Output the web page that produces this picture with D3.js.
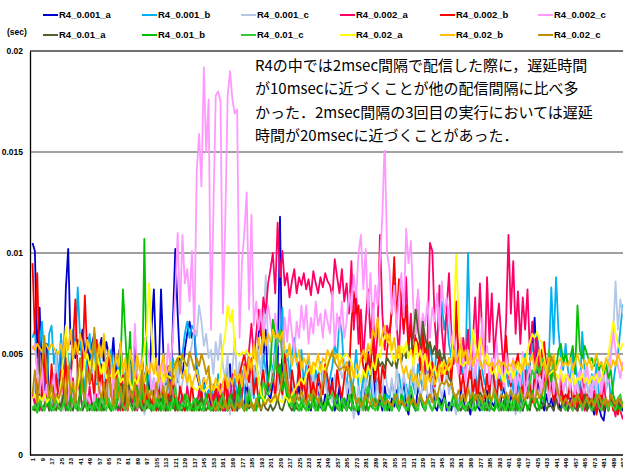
<!DOCTYPE html>
<html>
<head>
<meta charset="utf-8">
<script src="https://cdn.jsdelivr.net/npm/d3@7"></script>
<style>
  body { margin: 0; background: #fff; }
  svg { display: block; }
</style>
</head>
<body>
<div id="chart"></div>
<script>
const seriesNames = ["R4_0.001_a", "R4_0.001_b", "R4_0.001_c", "R4_0.002_a", "R4_0.002_b", "R4_0.002_c",
                     "R4_0.01_a", "R4_0.01_b", "R4_0.01_c", "R4_0.02_a", "R4_0.02_b", "R4_0.02_c"];
const yTicks = [0, 0.005, 0.01, 0.015, 0.02];
const yTickLabels = ["0", "0.005", "0.01", "0.015", "0.02"];
const xTickLabels = d3.range(1, 498, 8); // 1, 9, 17, ... 497
const noteLines = [
  "R4の中では2msec間隔で配信した際に，遅延時間",
  "が10msecに近づくことが他の配信間隔に比べ多",
  "かった．2msec間隔の3回目の実行においては遅延",
  "時間が20msecに近づくことがあった．"
];

const r4_0001_a = [105,101,48,73,40,32,55,28,36,25,44,30,58,38,82,102,55,60,48,57,52,62,50,58,46,
  55,60,48,52,58,45,56,50,44,58,38,48,55,42,30,50,46,35,55,40,28,48,36,44,30,
  62,82,45,38,82,50,35,44,28,66,102,70,45,38,52,60,66,58,62,40,35,30,38,26,32,
  24,30,22,28,35,25,22,30,45,24,28,22,33,26,22,38,25,30,44,35,60,66,48,62,30,
  28,35,46,40,118,32,44,30,25,38,22,28,34,26,40,30,24,22,32,27,36,24,22,30,26,
  30,38,22,26,34,22,28,24,36,30,22,25,20,28,24,44,51,40,46,30,24,28,22,34,26,
  22,28,24,32,22,26,38,24,20,30,25,22,35,28,24,22,30,26,40,24,22,28,25,32,22,
  26,22,30,24,22,34,28,22,25,20,30,36,24,22,28,25,32,22,26,24,30,22,28,35,24,
  22,30,26,24,40,28,22,35,30,46,55,68,40,32,26,22,30,24,28,22,34,26,22,30,25,
  22,28,24,30,22,26,35,24,22,28,25,20,30,24,19,17,26,22,30,24,22,28,25,22,26];
const r4_0001_b = [58,62,40,55,66,48,30,60,64,45,52,38,60,25,55,48,40,62,50,83,58,44,30,52,60,
  45,55,35,50,40,28,48,36,52,42,30,46,38,25,40,50,35,28,44,30,38,48,26,34,40,
  30,38,26,44,35,28,40,32,25,48,42,36,45,50,60,66,58,64,62,45,38,30,35,28,32,
  28,35,25,40,30,22,34,45,28,24,38,30,26,42,32,24,30,36,28,45,38,30,50,42,35,
  48,40,55,62,56,73,44,52,38,50,58,46,40,52,35,44,48,38,30,42,36,46,34,40,30,
  38,44,55,48,68,60,40,35,46,30,38,52,34,28,40,32,44,36,26,30,38,28,34,24,30,
  28,36,30,24,40,32,26,35,28,42,34,30,45,38,32,48,40,55,46,38,60,68,76,62,70,
  55,48,62,48,42,50,38,45,100,52,36,44,30,48,42,35,40,28,46,38,32,44,30,36,42,
  34,40,30,45,36,28,42,50,38,46,55,48,60,50,44,52,40,48,83,55,88,62,48,42,55,
  42,36,50,45,38,30,61,42,35,28,40,33,45,30,26,38,32,40,28,35,44,50,62,74,68];
const r4_0001_c = [28,35,24,40,30,45,26,22,38,30,50,28,24,42,32,26,36,22,30,44,28,34,24,38,42,
  40,45,36,42,38,30,44,26,35,28,22,32,40,26,30,24,34,22,28,36,24,30,20,26,32,
  24,30,22,35,28,40,26,32,24,38,30,45,28,36,42,34,48,55,62,59,74,66,54,60,48,
  52,40,56,47,60,44,38,50,20,42,58,36,46,30,40,34,48,28,44,36,52,40,62,89,55,
  45,38,50,32,42,28,36,46,30,40,26,35,44,30,24,38,32,28,40,26,34,30,42,36,28,
  32,26,40,34,45,38,42,30,36,28,18,26,34,22,30,38,26,42,32,24,36,28,30,44,34,
  30,38,26,44,34,28,40,32,24,36,46,30,38,28,34,42,30,26,38,32,44,36,28,34,40,
  30,36,26,20,28,22,34,30,38,26,42,32,28,36,24,30,40,34,42,28,36,26,32,38,30,
  26,34,28,20,24,21,32,28,38,30,26,44,34,28,40,30,36,26,32,42,34,28,36,30,38,
  28,34,40,30,36,26,32,42,36,28,34,38,30,44,36,40,32,46,52,60,86,62,77,70,74];
const r4_0002_a = [30,25,38,22,28,45,24,32,22,26,40,28,22,35,24,30,22,38,26,22,30,24,28,22,34,
  24,22,30,26,22,36,28,24,22,32,25,22,28,40,24,22,30,26,35,22,28,24,22,30,26,
  22,28,24,32,22,26,30,22,36,25,22,28,24,30,22,34,26,22,28,24,32,26,22,30,25,
  24,30,22,28,35,24,22,32,26,40,30,24,36,28,45,38,52,65,48,60,72,59,78,70,85,
  92,100,80,115,88,101,84,90,78,86,92,80,88,84,90,82,87,79,91,85,80,88,83,90,86,
  84,78,97,88,80,92,76,85,70,96,62,80,55,72,48,66,82,58,75,45,60,109,70,52,64,
  58,72,85,64,50,78,60,88,55,70,45,62,80,52,68,40,58,105,101,66,50,84,62,48,72,
  90,60,45,68,52,40,58,46,62,38,55,78,50,85,60,44,88,56,80,48,64,75,58,42,66,
  109,70,96,60,81,55,78,62,82,50,66,45,58,40,52,35,46,30,42,28,36,25,32,28,24,
  30,26,22,34,28,24,38,22,30,26,22,32,24,28,22,36,26,22,30,24,19,28,22,18,20];
const r4_0002_b = [95,60,90,40,28,50,35,24,45,30,38,26,42,30,48,25,36,55,77,40,30,45,79,50,35,
  40,28,57,32,45,26,38,50,30,24,42,28,36,22,30,46,26,34,24,40,28,22,35,26,30,
  24,32,22,28,38,25,22,30,26,40,24,22,34,28,22,30,25,36,22,28,24,32,22,26,30,
  28,22,34,26,30,22,38,24,28,22,32,26,40,45,50,42,36,48,30,38,26,34,42,30,36,
  32,40,28,45,36,30,50,38,26,42,34,28,46,32,38,26,44,30,36,28,40,34,30,45,38,
  30,36,26,42,34,28,38,46,40,65,81,70,74,52,44,38,50,42,60,36,48,30,44,38,52,
  60,72,98,66,87,78,62,74,52,64,48,58,55,42,60,50,56,38,46,34,42,50,36,44,40,
  48,36,55,76,44,32,40,28,36,45,30,38,26,42,34,28,40,30,46,36,28,38,32,44,59,
  40,34,46,45,50,38,30,42,28,36,26,40,32,44,38,56,42,30,36,26,34,28,38,24,30,
  28,37,24,32,22,30,26,35,22,28,24,30,20,26,32,22,28,24,30,22,26,20,28,24,22];
const r4_0002_c = [52,55,40,30,45,26,35,22,30,40,24,28,36,22,30,26,42,24,32,22,28,35,24,30,26,
  24,30,22,36,28,24,32,26,22,40,28,34,24,30,38,26,45,32,65,40,30,52,58,55,48,
  30,38,26,44,32,48,36,55,42,60,80,110,70,109,85,92,76,101,60,140,159,133,192,150,176,
  62,120,178,180,175,70,115,178,190,176,169,171,58,95,110,130,72,119,64,76,62,72,58,68,74,
  66,58,70,54,62,48,68,56,72,60,50,66,58,74,62,74,55,68,60,76,64,70,58,72,66,
  60,81,54,70,62,76,58,66,80,71,89,78,100,109,82,102,70,90,62,84,74,96,118,156,100,
  92,70,84,62,78,90,68,112,95,106,74,60,82,55,70,64,76,58,73,66,80,62,86,70,78,
  69,55,62,48,40,58,45,36,52,42,60,38,50,44,68,40,54,35,48,42,56,38,46,34,50,
  42,36,48,30,40,34,51,28,38,44,32,26,40,36,30,46,34,28,42,30,38,26,44,32,36,
  40,32,45,30,38,42,34,30,44,36,28,40,34,45,30,38,42,36,48,61,52,44,38,46,40];
const r4_001_a = [24,22,26,30,22,25,28,22,34,24,22,27,23,30,22,26,24,22,28,23,32,22,25,24,22,
  26,23,22,28,24,22,30,25,22,27,23,24,22,35,26,40,28,24,22,30,24,22,26,23,28,
  22,25,24,22,28,23,22,26,30,24,22,27,23,22,25,28,24,22,26,23,22,29,24,22,25,
  23,22,26,24,22,28,25,22,24,30,23,22,26,24,22,27,23,25,22,24,28,22,26,23,22,
  25,22,24,28,23,22,26,30,24,22,25,23,22,27,24,22,26,23,28,22,24,30,23,22,26,
  24,22,26,23,22,28,24,22,25,30,23,22,28,24,26,22,30,40,45,42,48,44,46,43,48,
  46,44,48,43,50,46,52,48,54,50,59,72,62,54,66,58,52,56,50,54,48,52,46,50,44,
  38,36,30,26,24,22,25,23,22,28,26,30,28,31,29,24,22,26,23,22,25,24,22,27,23,
  22,25,24,22,28,23,22,26,24,22,30,25,22,24,23,27,22,25,24,22,28,23,22,26,24,
  22,25,28,23,22,26,24,30,22,25,23,22,28,24,26,22,25,23,30,24,22,26,23,25,22];
const r4_001_b = [22,24,21,26,23,22,28,24,22,25,30,23,22,26,24,22,28,35,24,22,30,41,26,22,25,
  24,22,28,23,22,26,30,24,22,25,23,28,45,82,60,38,61,30,26,34,24,28,107,40,26,
  22,25,24,28,22,30,24,22,26,23,28,22,25,24,30,22,26,23,22,28,25,22,24,30,23,
  22,26,24,22,28,23,25,22,30,24,22,26,35,28,24,22,30,26,24,22,28,34,26,30,38,
  44,67,60,40,45,32,36,28,24,30,22,26,24,22,28,25,22,24,30,23,22,26,24,22,28,
  24,22,26,30,23,22,28,25,24,22,34,26,22,28,24,30,22,25,23,28,22,26,24,30,22,
  25,22,28,24,22,30,26,23,22,28,24,22,26,30,24,22,28,25,22,24,30,26,22,28,24,
  22,26,30,24,22,28,23,22,26,24,30,22,25,28,24,22,26,30,23,22,28,24,26,22,30,
  24,22,28,26,22,30,24,28,22,26,32,24,28,22,30,26,38,44,36,48,42,52,55,46,50,
  44,48,54,40,74,52,48,54,50,46,48,44,50,42,46,40,45,38,42,30,26,24,22,26,24];
const r4_001_c = [23,25,22,28,24,22,26,30,23,22,27,24,22,25,32,24,22,28,23,26,22,24,29,22,25,
  22,26,24,22,30,25,22,28,24,22,26,38,30,24,22,28,25,22,26,23,30,24,22,27,23,
  25,22,28,24,26,22,30,24,22,28,34,25,22,26,24,30,22,25,28,22,24,26,22,28,25,
  22,24,28,22,26,30,24,22,28,25,22,30,26,24,22,28,32,24,22,26,30,28,36,32,30,
  34,38,45,56,62,48,40,32,28,24,30,26,22,28,25,22,26,30,24,22,28,25,22,26,30,
  28,31,26,24,22,28,25,22,30,26,24,22,28,25,22,30,34,28,24,22,26,30,25,22,28,
  24,22,30,26,22,28,25,22,26,34,28,24,22,30,26,22,28,24,22,26,30,24,22,28,25,
  22,26,24,30,22,28,25,22,26,24,22,30,28,24,22,26,25,22,28,30,24,22,26,24,22,
  28,25,22,30,26,22,24,28,30,36,42,38,45,40,48,44,40,52,46,40,36,30,28,24,22,
  26,24,22,28,30,26,22,25,28,24,22,26,30,24,22,28,25,22,26,24,22,28,30,24,22];
const r4_002_a = [28,30,26,29,27,30,26,28,31,27,29,26,35,48,64,40,32,36,30,34,42,38,46,50,44,
  48,42,50,45,40,46,38,40,39,38,40,42,36,38,34,40,36,32,38,35,40,44,52,62,85,
  60,45,40,38,42,36,40,39,38,40,46,48,49,47,46,40,36,34,33,32,34,33,31,33,34,
  33,32,34,33,40,53,60,74,66,72,52,50,49,51,50,52,49,50,51,45,38,30,28,26,28,
  27,26,28,30,27,26,29,28,26,30,32,34,36,38,35,40,42,44,40,45,43,41,44,42,46,
  48,50,49,48,50,47,49,50,48,46,42,38,40,36,42,38,44,40,46,42,50,48,55,59,57,
  55,50,46,52,48,54,50,56,48,52,44,56,48,52,45,50,42,46,40,44,38,42,46,40,44,
  42,46,60,99,70,45,44,46,45,50,62,55,48,58,52,46,50,44,40,42,38,44,40,36,42,
  40,44,38,42,46,40,48,44,52,56,60,58,61,57,56,48,42,40,41,42,40,38,42,36,40,
  38,36,40,35,38,37,40,36,38,35,39,37,40,36,38,42,46,50,58,66,60,55,52,55,54];
const r4_002_b = [54,52,55,53,51,56,54,52,55,53,51,50,55,48,58,52,62,47,56,50,60,54,48,57,52,
  50,58,45,55,48,60,42,52,46,38,50,44,56,40,48,35,52,45,38,50,42,46,36,44,40,
  46,40,48,36,44,50,38,42,46,35,40,48,44,38,42,36,40,34,38,42,36,32,38,35,40,
  36,32,38,34,30,36,40,33,38,35,42,36,40,34,44,38,48,42,55,47,58,50,62,54,60,
  56,62,58,60,57,61,52,48,55,44,50,46,52,42,48,45,50,40,46,44,50,42,48,46,52,
  48,52,46,50,44,48,42,46,40,44,38,45,42,48,52,46,55,50,62,58,68,54,60,64,56,
  60,52,58,48,54,45,40,44,38,42,36,40,34,38,44,32,40,36,42,35,38,44,40,46,42,
  48,44,52,46,50,55,48,52,45,50,44,48,52,46,43,47,45,44,46,43,45,47,44,46,43,
  45,44,47,43,46,45,42,48,44,46,50,42,48,52,44,46,40,48,44,50,42,46,48,44,46,
  44,48,42,46,50,45,43,47,44,48,42,46,50,44,46,42,48,45,43,47,44,50,46,42,45];
const r4_002_c = [30,42,26,38,45,59,40,28,35,26,30,28,32,38,26,44,30,36,25,40,48,32,28,42,36,
  45,63,40,32,28,36,25,42,30,24,38,28,34,26,40,22,32,28,36,24,30,42,26,34,28,
  32,26,36,28,30,34,26,38,30,42,45,48,42,50,46,44,51,47,42,48,44,50,46,40,44,
  28,24,22,26,24,23,27,22,25,24,22,26,23,28,22,25,24,26,22,28,24,23,26,25,28,
  26,28,30,27,32,38,45,36,30,28,26,30,27,32,28,25,30,27,32,29,26,30,35,40,44,
  48,51,46,44,42,43,44,42,43,36,30,26,28,24,26,30,27,25,28,24,26,30,28,25,27,
  26,24,28,30,25,27,24,26,29,25,28,24,26,30,27,25,28,30,26,32,28,34,36,35,37,
  34,36,30,28,32,27,30,26,33,28,31,27,30,29,26,32,28,30,27,33,29,26,30,28,31,
  28,32,27,30,26,33,29,27,31,28,30,26,32,28,30,34,38,42,49,45,36,30,27,25,28,
  26,24,28,25,30,27,24,26,29,25,28,24,27,30,26,25,28,24,30,27,25,28,26,24,27];

const seriesValues = [r4_0001_a, r4_0001_b, r4_0001_c, r4_0002_a, r4_0002_b, r4_0002_c,
                      r4_001_a, r4_001_b, r4_001_c, r4_002_a, r4_002_b, r4_002_c];
const seriesColors = ["#0000cc", "#00b0f0", "#b4c7e7", "#ff0066", "#ff0000", "#ff99ff",
                      "#4f6228", "#00c000", "#33cc33", "#ffff00", "#ffc000", "#c09000"];
const UNIT = 0.0001;

const width = 623;
const height = 471;

const svg = d3.select("#chart")
  .append("svg")
  .attr("width", width)
  .attr("height", height)
  .style("font-family", "'Liberation Sans', Arial, sans-serif");

const x = d3.scaleLinear().domain([1, 497]).range([32.5, 622.7]);
const y = d3.scaleLinear().domain([0, 0.02]).range([455, 51]);

// gridlines
svg.append("g")
  .selectAll("line")
  .data(yTicks.filter(d => d > 0))
  .join("line")
  .attr("x1", 30)
  .attr("x2", width)
  .attr("y1", d => y(d))
  .attr("y2", d => y(d))
  .style("stroke", d => d === 0.02 ? "#404040" : "#808080")
  .style("stroke-width", 1.5);

// series lines, drawn in legend order so the later ones sit on top
const line = d3.line()
  .x((d, i) => x(1 + i * 2))
  .y(d => y(d * UNIT));

svg.append("g")
  .selectAll("path")
  .data(seriesValues)
  .join("path")
  .attr("d", d => line(d))
  .style("fill", "none")
  .style("stroke", (d, i) => seriesColors[i])
  .style("stroke-width", 1.8)
  .style("stroke-linejoin", "round");

// y axis
const yAxis = svg.append("g")
  .attr("transform", "translate(30,0)")
  .call(d3.axisLeft(y)
    .tickValues(yTicks)
    .tickFormat((d, i) => yTickLabels[i])
    .tickSize(0)
    .tickPadding(7));
yAxis.select(".domain").style("stroke", "#000").style("stroke-width", 1.3);
yAxis.selectAll("text")
  .style("font-size", "8.5px")
  .style("font-weight", "bold")
  .style("fill", "#000");

// x axis
const xAxis = svg.append("g")
  .attr("transform", "translate(0,455)")
  .call(d3.axisBottom(x)
    .tickValues(xTickLabels)
    .tickSize(0));
xAxis.select(".domain").remove();
xAxis.append("line")
  .attr("x1", 30)
  .attr("x2", width)
  .style("stroke", "#000")
  .style("stroke-width", 1.5);
xAxis.selectAll("text")
  .attr("transform", "rotate(-90)")
  .attr("text-anchor", "end")
  .attr("x", -3)
  .attr("y", 0)
  .attr("dy", "0.35em")
  .style("font-size", "6px")
  .style("font-weight", "bold")
  .style("fill", "#000");

svg.append("text")
  .attr("x", 7)
  .attr("y", 35)
  .style("font-size", "8.5px")
  .style("font-weight", "bold")
  .text("(sec)");

// legend: two rows of six
const legendX = [43, 142, 241, 340, 440, 538];
const legend = svg.append("g")
  .selectAll("g")
  .data(seriesNames)
  .join("g")
  .attr("transform", (d, i) => `translate(${legendX[i % 6]},${i < 6 ? 15 : 35})`);

legend.append("line")
  .attr("x1", 0)
  .attr("x2", 15)
  .style("stroke", (d, i) => seriesColors[i])
  .style("stroke-width", 2);

legend.append("text")
  .attr("x", 16)
  .attr("dy", "0.35em")
  .style("font-size", "9.5px")
  .style("font-weight", "bold")
  .text(d => d);

// note box over the plot
const note = svg.append("g");
note.append("rect")
  .attr("x", 252)
  .attr("y", 53)
  .attr("width", width - 252)
  .attr("height", 97)
  .style("fill", "#fff");
note.selectAll("text")
  .data(noteLines)
  .join("text")
  .attr("x", 255)
  .attr("y", (d, i) => 71 + i * 23.4)
  .style("font-family", "'Noto Sans CJK JP', sans-serif")
  .style("font-size", "15px")
  .style("fill", "#000")
  .text(d => d);
</script>
</body>
</html>
